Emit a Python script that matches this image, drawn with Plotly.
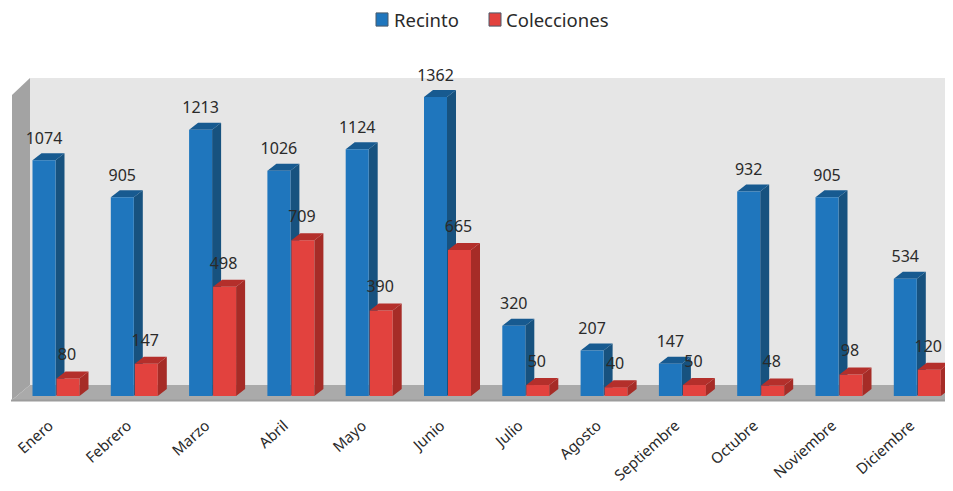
import plotly.graph_objects as go

meses = ["Enero", "Febrero", "Marzo", "Abril", "Mayo", "Junio", "Julio", "Agosto",
         "Septiembre", "Octubre", "Noviembre", "Diciembre"]
recinto = [1074, 905, 1213, 1026, 1124, 1362, 320, 207, 147, 932, 905, 534]
colecciones = [80, 147, 498, 709, 390, 665, 50, 40, 50, 48, 98, 120]

W, H = 953, 491
PAGE = 8            # margen del body de la pagina
PITCH = 78.3
X0 = 55.5
PX_PER_UNIT = 0.2195
BASE_PX = 396.0
PLOT_BOTTOM = 405.0

def xv(px):
    return (px - X0) / PITCH

def yv(py):
    return (BASE_PX - py) / PX_PER_UNIT

def xp(px):
    return (px - PAGE) / (W - PAGE)

def yp(py):
    return (H - py) / (H - PAGE)

BAR_W = 23 / PITCH
DX = 9 / PITCH
DY = 7 / PX_PER_UNIT
LABEL_UP_BLUE = 20.5 / PX_PER_UNIT
LABEL_UP_RED = 22 / PX_PER_UNIT

C_BLUE, C_BLUE_SIDE, C_BLUE_TOP = "#1f76bd", "#17527f", "#175a90"
C_RED, C_RED_SIDE, C_RED_TOP = "#e2423e", "#a62c27", "#b42f2b"
C_WALL, C_SIDEWALL, C_FLOOR, C_EDGE = "#e6e6e6", "#a3a3a3", "#aaaaaa", "#9c9c9c"
TXT = "#2a2a2a"
FONT = "Noto Sans"

def poly(pts):
    return "M " + " L ".join(f"{a},{b}" for a, b in pts) + " Z"

def face(pts, color):
    return dict(type="path", path=poly(pts), xref="x", yref="y", layer="below",
                fillcolor=color, line=dict(width=0))

shapes = [
    face([(xv(30), yv(78)), (xv(953), yv(78)), (xv(953), yv(385)), (xv(30), yv(385))], C_WALL),
    face([(xv(12), yv(95)), (xv(30), yv(78)), (xv(30), yv(385)), (xv(12), yv(400))], C_SIDEWALL),
    face([(xv(12), yv(400)), (xv(30), yv(385)), (xv(953), yv(385)), (xv(950), yv(400))], C_FLOOR),
    face([(xv(11), yv(399.5)), (xv(951), yv(399.5)), (xv(951), yv(401.5)), (xv(11), yv(401.5))], C_EDGE),
]

# caras laterales y superiores de las barras azules (debajo de todas las barras)
for i, v in enumerate(recinto):
    l, r = i - BAR_W, i
    shapes.append(face([(r, 0), (r + DX, DY), (r + DX, v + DY), (r, v)], C_BLUE_SIDE))
    shapes.append(face([(l, v), (l + DX, v + DY), (r + DX, v + DY), (r, v)], C_BLUE_TOP))

# leyenda
legend_items = [("Recinto", C_BLUE, 376, 392), ("Colecciones", C_RED, 489, 504)]
annotations = []
for name, col, sx0, tx0 in legend_items:
    shapes.append(dict(type="rect", xref="paper", yref="paper",
                       x0=xp(sx0), x1=xp(sx0 + 12), y0=yp(30), y1=yp(14),
                       fillcolor=col, line=dict(color="#4a5a6a", width=1)))
    annotations.append(dict(text=name, xref="paper", yref="paper", x=xp(tx0), y=yp(22),
                            xanchor="left", yanchor="middle", showarrow=False,
                            font=dict(family=FONT, size=18.5, color=TXT)))

def red_faces():
    sx, sy, tx, ty = [], [], [], []
    off = 1 / PITCH
    for i, v in enumerate(colecciones):
        l, r = i + off, i + off + BAR_W
        for a, b in [(r, 0), (r + DX, DY), (r + DX, v + DY), (r, v), (r, 0), (None, None)]:
            sx.append(a); sy.append(b)
        for a, b in [(l, v), (l + DX, v + DY), (r + DX, v + DY), (r, v), (l, v), (None, None)]:
            tx.append(a); ty.append(b)
    return sx, sy, tx, ty

x = list(range(len(meses)))
fig = go.Figure()
fig.add_bar(x=x, y=recinto, name="Recinto", width=BAR_W, offset=-BAR_W,
            marker=dict(color=C_BLUE, line=dict(width=0)))
fig.add_bar(x=x, y=colecciones, name="Colecciones", width=BAR_W, offset=1 / PITCH,
            marker=dict(color=C_RED, line=dict(width=0)))

sx, sy, tx, ty = red_faces()
for fx, fy, col in [(sx, sy, C_RED_SIDE), (tx, ty, C_RED_TOP)]:
    fig.add_scatter(x=fx, y=fy, mode="lines", fill="toself", fillcolor=col,
                    line=dict(width=0, color=col), showlegend=False, hoverinfo="skip")

fig.add_scatter(x=[i - BAR_W / 2 for i in x], y=[v + LABEL_UP_BLUE for v in recinto],
                mode="text", text=[str(v) for v in recinto], textposition="middle center",
                textfont=dict(family=FONT, size=16, color=TXT), showlegend=False, hoverinfo="skip")
fig.add_scatter(x=[i + BAR_W / 2 for i in x], y=[v + LABEL_UP_RED for v in colecciones],
                mode="text", text=[str(v) for v in colecciones], textposition="middle center",
                textfont=dict(family=FONT, size=16, color=TXT), showlegend=False, hoverinfo="skip")

fig.update_layout(
    width=W - PAGE, height=H - PAGE, margin=dict(l=0, r=0, t=0, b=H - PLOT_BOTTOM),
    paper_bgcolor="white", plot_bgcolor="white", shapes=shapes, annotations=annotations,
    barmode="overlay", showlegend=False,
    font=dict(family=FONT, color=TXT),
    xaxis=dict(range=[xv(PAGE), xv(W)], tickmode="array", tickvals=[i - 0.08 for i in x],
               ticktext=meses, tickangle=-42, showgrid=False, zeroline=False, showline=False,
               ticks="outside", ticklen=5, tickcolor="rgba(0,0,0,0)", automargin=False,
               tickfont=dict(family=FONT, size=15, color=TXT)),
    yaxis=dict(range=[yv(PLOT_BOTTOM), yv(PAGE)], visible=False, showgrid=False,
               zeroline=False, automargin=False),
)
fig.write_html("out.html")
